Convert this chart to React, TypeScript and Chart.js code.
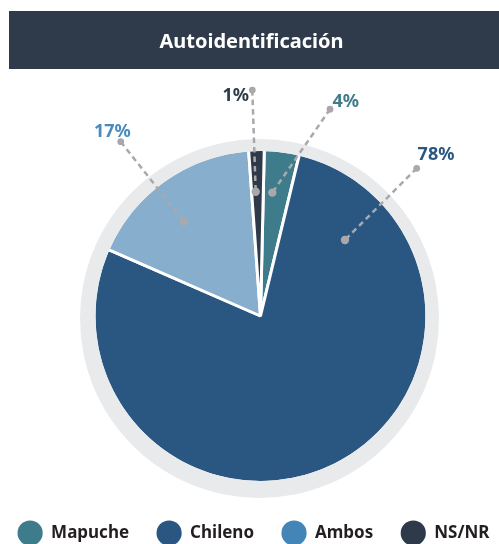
import React, { useEffect, useRef } from "react";
import { Chart, registerables } from "chart.js";

Chart.register(...registerables);

// ---- data ----
const TITLE = "Autoidentificación";
const CATEGORIES = ["Mapuche", "Chileno", "Ambos", "NS/NR"];
// slice sizes as drawn in the picture (percent)
const VALUES = [3.4, 77.8, 17.3, 1.5];
// printed labels
const VALUE_LABELS = ["4%", "78%", "17%", "1%"];

// ---- styles ----
const SLICE_COLORS = ["#3e7b8b", "#2a5782", "#87aecd", "#2e3a4a"];
const LEGEND_COLORS = ["#3e7b8b", "#2a5782", "#4485b7", "#2e3a4a"];
const LABEL_COLORS = ["#3e7b8b", "#2a5782", "#4a8bbf", "#2e3a4a"];
const HEADER_BG = "#2f3b4a";
const RING_COLOR = "#e9eaec";
const LEADER_COLOR = "#a9a9ad";
const FONT = "'Noto Sans', sans-serif";

// leader line geometry per slice (angles clockwise from 12 o'clock, radii as fraction of pie radius)
// [innerAngle, innerR, outerAngle, outerR, textDx, textDy]
const LEADERS = [
  [5.47, 0.751, 18.58, 1.322, 15.7, -2],
  [48.0, 0.689, 46.6, 1.303, 19.3, -8.3],
  [-39.05, 0.736, -38.73, 1.354, -8.4, -5],
  [-2.21, 0.754, -2.08, 1.37, -16.6, 10.7],
];

const RING_WIDTH = 14.5;

const headerPlugin = {
  id: "header",
  beforeDraw(chart: any) {
    const ctx = chart.ctx;
    ctx.save();
    ctx.fillStyle = HEADER_BG;
    ctx.fillRect(9, 11, chart.width - 9, 58);
    ctx.fillStyle = "#ffffff";
    ctx.font = `bold 20px ${FONT}`;
    ctx.textAlign = "center";
    ctx.textBaseline = "alphabetic";
    ctx.fillText(TITLE, 251.5, 48.3);
    ctx.restore();
  },
};

function pieGeom(chart: any) {
  const arc = chart.getDatasetMeta(0).data[0];
  return { cx: arc.x, cy: arc.y, r: arc.outerRadius - 1.5 };
}

const ringPlugin = {
  id: "ring",
  afterDatasetsDraw(chart: any) {
    const ctx = chart.ctx;
    const { cx, cy, r } = pieGeom(chart);
    ctx.save();
    ctx.beginPath();
    ctx.arc(cx - 1, cy + 2.5, r + RING_WIDTH, 0, Math.PI * 2);
    ctx.moveTo(cx + r, cy);
    ctx.arc(cx, cy, r, 0, Math.PI * 2);
    ctx.fillStyle = RING_COLOR;
    ctx.fill("evenodd");
    ctx.restore();
  },
};

const labelPlugin = {
  id: "leaders",
  afterDatasetsDraw(chart: any) {
    const ctx = chart.ctx;
    const { cx, cy, r } = pieGeom(chart);
    const pt = (deg: number, f: number) => {
      const a = (deg * Math.PI) / 180;
      return [cx + r * f * Math.sin(a), cy - r * f * Math.cos(a)];
    };
    ctx.save();
    LEADERS.forEach((g, i) => {
      const [ia, ir, oa, or, tdx, tdy] = g;
      const [x1, y1] = pt(ia, ir);
      const [x2, y2] = pt(oa, or);
      ctx.strokeStyle = LEADER_COLOR;
      ctx.lineWidth = 2.5;
      ctx.setLineDash([5.5, 4]);
      ctx.beginPath();
      ctx.moveTo(x2, y2);
      ctx.lineTo(x1, y1);
      ctx.stroke();
      ctx.setLineDash([]);
      ctx.fillStyle = LEADER_COLOR;
      ctx.beginPath();
      ctx.arc(x1, y1, 4.2, 0, Math.PI * 2);
      ctx.fill();
      ctx.beginPath();
      ctx.arc(x2, y2, 3.4, 0, Math.PI * 2);
      ctx.fill();
      ctx.fillStyle = LABEL_COLORS[i];
      ctx.font = `bold 18px ${FONT}`;
      ctx.textAlign = "center";
      ctx.textBaseline = "alphabetic";
      ctx.fillText(VALUE_LABELS[i], x2 + tdx, y2 + tdy);
    });
    ctx.restore();
  },
};

const legendPlugin = {
  id: "customLegend",
  afterDraw(chart: any) {
    const ctx = chart.ctx;
    ctx.save();
    ctx.font = `bold 17px ${FONT}`;
    const rad = 12.6;
    const textGap = 21;
    const itemGap = 40;
    const widths = CATEGORIES.map((c) => ctx.measureText(c).width);
    const total =
      rad + widths.reduce((s, w) => s + textGap + w, 0) + itemGap * (CATEGORIES.length - 1);
    let x = 253.5 - total / 2 + rad;
    CATEGORIES.forEach((c, i) => {
      ctx.fillStyle = LEGEND_COLORS[i];
      ctx.beginPath();
      ctx.arc(x, 533, rad, 0, Math.PI * 2);
      ctx.fill();
      ctx.fillStyle = "#231f20";
      ctx.textAlign = "left";
      ctx.textBaseline = "alphabetic";
      ctx.fillText(c, x + textGap, 538.4);
      x += textGap + widths[i] + itemGap;
    });
    ctx.restore();
  },
};

export default function App() {
  const ref = useRef<HTMLCanvasElement>(null);
  useEffect(() => {
    const canvas = ref.current;
    if (!canvas) return;
    const chart = new Chart(canvas, {
      type: "pie",
      data: {
        labels: CATEGORIES,
        datasets: [
          {
            data: VALUES,
            backgroundColor: SLICE_COLORS,
            borderColor: "#ffffff",
            borderWidth: 3,
            hoverOffset: 0,
            radius: 166.5,
            rotation: 1.3,
          } as any,
        ],
      },
      options: {
        responsive: false,
        animation: false,
        events: [],
        layout: { padding: { top: 120, bottom: 32, left: 22, right: 0 } },
        plugins: {
          legend: { display: false },
          title: { display: false },
          tooltip: { enabled: false },
        },
      },
      plugins: [headerPlugin, ringPlugin, labelPlugin, legendPlugin],
    });
    return () => chart.destroy();
  }, []);
  return (
    <div style={{ position: "absolute", left: 0, top: 0, width: 499, height: 544, background: "#ffffff" }}>
      <canvas ref={ref} width={499} height={544} style={{ display: "block" }} />
    </div>
  );
}
